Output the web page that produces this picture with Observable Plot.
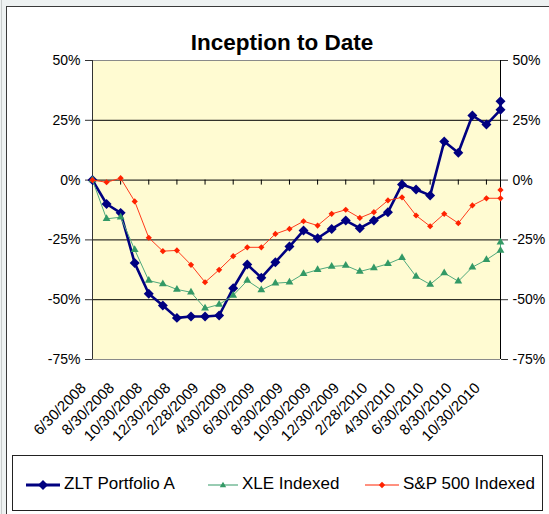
<!DOCTYPE html>
<html><head><meta charset="utf-8">
<script src="https://cdn.jsdelivr.net/npm/d3@7"></script>
<script src="https://cdn.jsdelivr.net/npm/@observablehq/plot@0.6"></script>
<style>
html,body{margin:0;padding:0;width:549px;height:514px;overflow:hidden;background:#eef2f2;font-family:"Liberation Sans",Arial,sans-serif;color:#000;}
#edge{position:absolute;left:1px;top:0;width:1px;height:514px;background:#c8cccc;}
#frame{position:absolute;left:6px;top:6px;width:600px;height:600px;background:#fff;border-left:1px solid #3a3a3a;border-top:1px solid #3a3a3a;}
#chart{position:absolute;left:0;top:0;}
#title{position:absolute;left:132px;top:32px;width:300px;text-align:center;font-weight:bold;font-size:22.5px;line-height:1;}
#legend{position:absolute;left:12px;top:455px;width:529px;height:54px;border:1px solid #222;background:#fff;}
.item{position:absolute;top:19px;height:18px;font-size:17px;line-height:1;white-space:nowrap;}
.item svg{position:absolute;top:0;left:0;}
.item span{position:absolute;top:0;}
</style>
</head><body>
<div id="edge"></div>
<div id="frame"></div>
<div id="chart"></div>
<div id="title">Inception to Date</div>
<div id="legend"></div>
<script>
// ---- data (values in percent) ----
const dates = ["6/30/2008","7/31/2008","8/31/2008","9/30/2008","10/31/2008","11/30/2008","12/31/2008",
  "1/31/2009","2/28/2009","3/31/2009","4/30/2009","5/31/2009","6/30/2009","7/31/2009","8/31/2009","9/30/2009","10/31/2009","11/30/2009","12/31/2009",
  "1/31/2010","2/28/2010","3/31/2010","4/30/2010","5/31/2010","6/30/2010","7/31/2010","8/31/2010","9/30/2010","10/31/2010","11/19/2010","11/30/2010"];
const zlt = [0,-10,-13.7,-34.7,-47.5,-52.4,-57.6,-57,-57,-56.6,-45.2,-35.3,-40.8,-34.3,-27.8,-21.1,-24.3,-20.4,-16.9,-20.1,-16.9,-13.4,-1.8,-3.9,-6.4,16.1,11.4,27.0,23.2,29.4,33.0];
const xle = [0,-16.2,-15.5,-29.1,-42.0,-43.4,-45.7,-46.9,-53.6,-52.0,-48.2,-42.0,-45.9,-43.1,-42.7,-39.2,-37.5,-36.1,-35.7,-38.2,-36.7,-35.0,-32.5,-40.3,-43.6,-38.8,-42.3,-36.4,-33.3,-29.4,-26.0];
const sp = [0,-0.9,0.8,-8.9,-24.1,-29.7,-29.4,-35.4,-42.7,-37.5,-31.8,-28.1,-28.1,-22.5,-20.4,-17.2,-19.0,-14.1,-12.4,-15.8,-13.4,-8.5,-7.2,-14.8,-19.3,-14.1,-18.0,-10.6,-7.6,-7.6,-4.1];
const seriesNames = ["ZLT Portfolio A","XLE Indexed","S&P 500 Indexed"];
const xTickLabels = ["6/30/2008","8/30/2008","10/30/2008","12/30/2008","2/28/2009","4/30/2009","6/30/2009","8/30/2009","10/30/2009","12/30/2009","2/28/2010","4/30/2010","6/30/2010","8/30/2010","10/30/2010"];
const yTicks = [-75,-50,-25,0,25,50];
const yTickLabels = ["-75%","-50%","-25%","0%","25%","50%"];

// month index on an Excel-style month axis
const monthIndex = s => { const [m,, y] = s.split("/").map(Number); return (y - 2008) * 12 + (m - 6); };
const xTickPos = xTickLabels.map(monthIndex);
const lastMonth = monthIndex(dates[dates.length - 1]);

const colors = {"ZLT Portfolio A": "#000080", "XLE Indexed": "#339966", "S&P 500 Indexed": "#ff2200"};
const rows = [];
[zlt, xle, sp].forEach((vals, k) => vals.forEach((v, i) => rows.push({series: seriesNames[k], m: monthIndex(dates[i]), v})));
const of = name => rows.filter(r => r.series === name);

const font = '"Liberation Sans", Arial, sans-serif';
const chart = Plot.plot({
  width: 549, height: 450,
  marginLeft: 92, marginRight: 49, marginTop: 60, marginBottom: 91,
  style: {background: "transparent", fontFamily: font, color: "#000", overflow: "visible"},
  x: {domain: [0, lastMonth], axis: null},
  y: {domain: [-75, 50], axis: null},
  marks: [
    Plot.frame({fill: "#fffbd2"}),
    Plot.ruleY([50, -75], {stroke: "#8a8a8a", strokeWidth: 1}),
    Plot.ruleY([25, 0, -25, -50], {stroke: "#000", strokeWidth: 1}),
    Plot.ruleX([0], {stroke: "#333", strokeWidth: 1}),
    Plot.ruleX([lastMonth], {stroke: "#000", strokeWidth: 1}),
    Plot.ruleX(xTickPos, {x: d => d, y1: () => 0, y2: () => 0, insetBottom: -5, stroke: "#000"}),
    Plot.axisY({anchor: "left", ticks: yTicks, tickFormat: d => yTickLabels[yTicks.indexOf(d)], tickSize: 7, tickPadding: 5, fontSize: 14, label: null, stroke: "#333"}),
    Plot.axisY({anchor: "right", ticks: yTicks, tickFormat: d => yTickLabels[yTicks.indexOf(d)], tickSize: 7, tickPadding: 5, fontSize: 14, label: null, stroke: "#333"}),
    Plot.text(xTickPos, {x: d => d, y: () => -75, text: d => xTickLabels[xTickPos.indexOf(d)], rotate: -45, textAnchor: "end", dx: -9, dy: 26, fontSize: 15, fill: "#000"}),
    // ZLT
    Plot.line(of(seriesNames[0]), {x: "m", y: "v", stroke: colors[seriesNames[0]], strokeWidth: 2.6}),
    Plot.dot(of(seriesNames[0]), {x: "m", y: "v", symbol: "diamond2", r: 4.5, fill: colors[seriesNames[0]], stroke: "none"}),
    // XLE
    Plot.line(of(seriesNames[1]), {x: "m", y: "v", stroke: "#4fa97c", strokeWidth: 1}),
    Plot.dot(of(seriesNames[1]), {x: "m", y: "v", symbol: "triangle", r: 2.9, fill: colors[seriesNames[1]], stroke: "none"}),
    // S&P
    Plot.line(of(seriesNames[2]), {x: "m", y: "v", stroke: "#ff3a1a", strokeWidth: 1}),
    Plot.dot(of(seriesNames[2]), {x: "m", y: "v", symbol: "diamond2", r: 2.8, fill: colors[seriesNames[2]], stroke: "none"})
  ]
});
document.getElementById("chart").append(chart);

// legend
const legendItems = [
  {name: seriesNames[0], left: 13, sym: "diamond", w: 3, r: 5, textLeft: 38},
  {name: seriesNames[1], left: 195, sym: "triangle", w: 1, r: 3.2, textLeft: 34},
  {name: seriesNames[2], left: 352, sym: "diamond", w: 1, r: 3.2, textLeft: 38}
];
const legend = document.getElementById("legend");
legendItems.forEach(it => {
  const c = colors[it.name];
  const div = document.createElement("div");
  div.className = "item";
  div.style.left = it.left + "px";
  const len = it.textLeft - 4;
  const cx = len / 2, cy = 10;
  let shape;
  if (it.sym === "diamond") shape = `<path d="M${cx},${cy - it.r}L${cx + it.r},${cy}L${cx},${cy + it.r}L${cx - it.r},${cy}Z" fill="${c}"/>`;
  else shape = `<path d="M${cx},${cy - it.r}L${cx + it.r},${cy + it.r * 0.7}L${cx - it.r},${cy + it.r * 0.7}Z" fill="${c}"/>`;
  div.innerHTML = `<svg width="${len}" height="20"><line x1="0" x2="${len}" y1="${cy}" y2="${cy}" stroke="${c}" stroke-width="${it.w}"/>${shape}</svg><span style="left:${it.textLeft}px">${it.name.replace("&", "&amp;")}</span>`;
  legend.append(div);
});
</script>
</body></html>
